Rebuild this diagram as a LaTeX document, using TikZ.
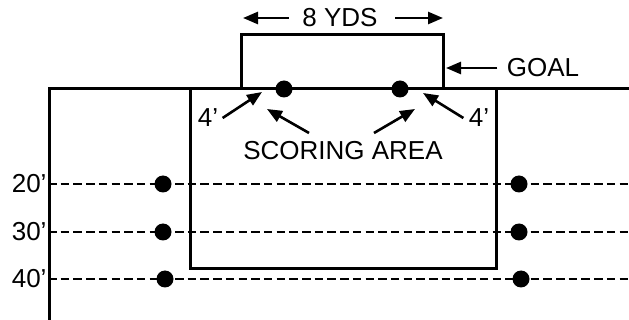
\documentclass[tikz,border=0pt]{standalone}
\usepackage{fontspec}
\setmainfont{Liberation Sans}
\usetikzlibrary{arrows.meta,positioning}

\begin{document}
\begin{tikzpicture}[x=1pt,y=-1pt,line width=3pt,line join=miter,
    >={Triangle[length=15pt,width=12pt]},
    every node/.style={font=\fontsize{26}{30}\selectfont,inner sep=0pt},
    spot/.style={circle,fill,minimum size=17pt,inner sep=0pt},
    yardline/.style={line width=2.5pt,dash pattern=on 8.5pt off 4.2pt},
    pointer/.style={->,line width=2.6pt}]
    \useasboundingbox (0,0) rectangle (629,320);
    % field and boxes
    \draw (49,320) -- (49,89) -- (629,89);
    \draw (190,89) rectangle (496,269);
    \draw (241,89) rectangle (443,35);
    % yard lines with markers
    \foreach \d/\y/\xl/\xr in {20/184/163/519, 30/232/163/519, 40/279/165/521} {
        \node[anchor=east] (d\d) at (48,\y) {\d’};
        \coordinate (e\d) at (629,\y);
        \draw[yardline] (d\d.east) -- (e\d);
        \node[spot] (ml\d) at (\xl,\y) {};
        \node[spot] (mr\d) at (\xr,\y) {};
    }
    % scoring markers on the goal line
    \node[spot] (pl) at (284,89) {};
    \node[spot] (pr) at (400,89) {};
    % width of the goal
    \node (yds) at (340,18) {8 YDS};
    \coordinate (gl) at (243,18);
    \coordinate (gr) at (443,18);
    \draw[pointer] ([xshift=-12pt]yds.west) -- (gl);
    \draw[pointer] ([xshift=16pt]yds.east) -- (gr);
    % goal label
    \node (goal) at (543,68) {GOAL};
    \coordinate (gside) at (446,68);
    \draw[pointer] ([xshift=-8pt]goal.west) -- (gside);
    % 4 foot labels
    \node (fl) at (208,118) {4’};
    \node (fr) at (479,118) {4’};
    \coordinate (cl) at (262,92);
    \coordinate (cr) at (423,93);
    \draw[pointer] ([xshift=3pt]fl.east) -- (cl);
    \draw[pointer] ([xshift=-4pt]fr.west) -- (cr);
    % scoring area label
    \node (area) at (343,151) {SCORING AREA};
    \coordinate (al) at (267,109);
    \coordinate (ar) at (415,109);
    \draw[pointer] (309,133) -- (al);
    \draw[pointer] (374,133) -- (ar);
\end{tikzpicture}
\end{document}
